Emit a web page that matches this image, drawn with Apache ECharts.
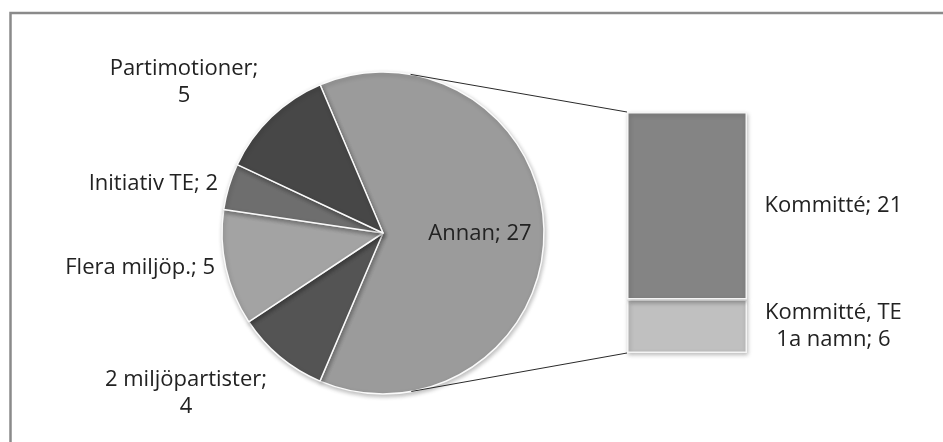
<!DOCTYPE html>
<html>
<head>
<meta charset="utf-8">
<script src="https://cdn.jsdelivr.net/npm/echarts@6/dist/echarts.min.js"></script>
<style>
html,body{margin:0;padding:0;background:#fff;}
#main{width:943px;height:442px;}
</style>
</head>
<body>
<div id="main"></div>
<script>
// pie part
var pieNames = ['Annan', '2 miljöpartister', 'Flera miljöp.', 'Initiativ TE', 'Partimotioner'];
var pieValues = [27, 4, 5, 2, 5];
var pieColors = ['#9b9b9b', '#545454', '#a3a3a3', '#6e6e6e', '#474747'];
// bar part (split of "Annan"), listed bottom to top
var barNames = ['Kommitté, TE\n1a namn', 'Kommitté'];
var barValues = [6, 21];
var barColors = ['#c0c0c0', '#848484'];

var FONT = '"Open Sans"';
var FONT_SIZE = 22;
var pieCenter = [383, 233];
var pieRadius = 161;
// where the outside labels sit (Excel "best fit")
var labelPos = [null, [186, 393, 'center'], [215, 268, 'right'], [218, 184, 'right'], [184, 82, 'center']];

var chart = echarts.init(document.getElementById('main'));

var pieData = pieNames.map(function (n, i) {
    return { name: n, value: pieValues[i], itemStyle: { color: pieColors[i] } };
});

var barSeries = barNames.map(function (n, i) {
    return {
        name: n,
        type: 'bar',
        stack: 'annan',
        barWidth: '100%',
        data: [barValues[i]],
        itemStyle: { color: barColors[i], borderColor: '#f4f4f4', borderWidth: 1.5,
            shadowBlur: 4, shadowColor: 'rgba(0,0,0,0.25)', shadowOffsetX: 1, shadowOffsetY: 2 },
        label: {
            show: true,
            position: ['172%', '50%'],
            align: 'center',
            verticalAlign: 'middle',
            formatter: function (p) { return p.seriesName + '; ' + p.value; },
            color: '#222',
            fontFamily: FONT,
            fontSize: FONT_SIZE,
            lineHeight: 27
        }
    };
});

var option = {
    animation: false,
    backgroundColor: '#fff',
    grid: { left: 627, top: 112, width: 120, height: 241 },
    xAxis: { type: 'category', data: ['Annan'], show: false },
    yAxis: { type: 'value', min: 0, max: 27, show: false },
    series: [{
        type: 'pie',
        center: pieCenter,
        radius: pieRadius,
        startAngle: 113,
        clockwise: true,
        data: pieData,
        itemStyle: { borderColor: '#fafafa', borderWidth: 1.5,
            shadowBlur: 4, shadowColor: 'rgba(0,0,0,0.25)', shadowOffsetX: 1, shadowOffsetY: 2 },
        label: {
            show: true,
            formatter: function (p) {
                return p.dataIndex === 1 || p.dataIndex === 4 ? p.name + ';\n' + p.value : p.name + '; ' + p.value;
            },
            color: '#222',
            fontFamily: FONT,
            fontSize: FONT_SIZE,
            lineHeight: 27
        },
        labelLine: { show: false },
        labelLayout: function (params) {
            var pos = labelPos[params.dataIndex];
            if (!pos) {
                return { x: 480, y: 234, align: 'center', verticalAlign: 'middle' };
            }
            return { x: pos[0], y: pos[1], align: pos[2], verticalAlign: 'middle' };
        }
    }].concat(barSeries)
};
chart.setOption(option);

// connector lines: tangents from the bar's left corners to the pie circle
function tangent(px, py, upper) {
    var dx = px - pieCenter[0], dy = py - pieCenter[1];
    var d = Math.sqrt(dx * dx + dy * dy);
    var base = Math.atan2(dy, dx);
    var a = Math.acos(pieRadius / d);
    var t = upper ? base - a : base + a;
    return [pieCenter[0] + pieRadius * Math.cos(t), pieCenter[1] + pieRadius * Math.sin(t)];
}
var topLeft = chart.convertToPixel({ gridIndex: 0 }, [0, 27]);
var botLeft = chart.convertToPixel({ gridIndex: 0 }, [0, 0]);
var barLeft = 627;
var t1 = tangent(barLeft, topLeft[1], true);
var t2 = tangent(barLeft, botLeft[1], false);

chart.setOption({
    graphic: [
        { type: 'rect', shape: { x: 10.5, y: 13, width: 1000, height: 600 },
          style: { fill: null, stroke: '#8a8a8a', lineWidth: 2.5 }, silent: true },
        { type: 'line', shape: { x1: t1[0], y1: t1[1], x2: barLeft, y2: topLeft[1] },
          style: { stroke: '#2a2a2a', lineWidth: 1 }, z: 10 },
        { type: 'line', shape: { x1: t2[0], y1: t2[1], x2: barLeft, y2: botLeft[1] },
          style: { stroke: '#2a2a2a', lineWidth: 1 }, z: 10 }
    ]
});
</script>
</body>
</html>
